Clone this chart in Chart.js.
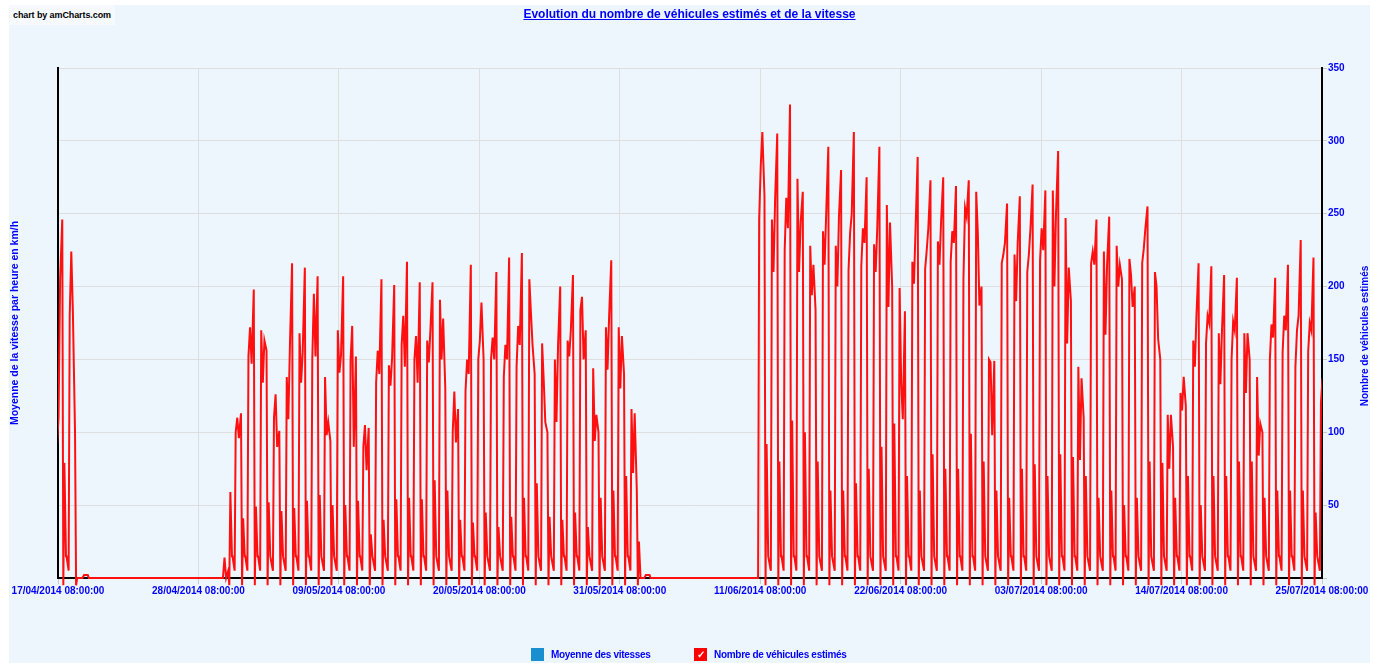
<!DOCTYPE html>
<html>
<head>
<meta charset="utf-8">
<script src="https://cdn.jsdelivr.net/npm/chart.js@4.4.1/dist/chart.umd.min.js"></script>
<style>
  body { margin: 0; background: #fff; font-family: "Liberation Sans", Arial, sans-serif; }
  #wrap { position: absolute; left: 9px; top: 5px; width: 1361px; height: 658px; background: #eef6fd; }
  #chart { position: absolute; left: 0; top: 0; }
  #credit { position: absolute; left: 0; top: 0; padding: 5px 4px 5px 4px; font: bold 9px "Liberation Sans", Arial, sans-serif; letter-spacing: -0.1px; color: #000; background: #f6faff; }
  #title { position: absolute; left: 0; top: 2px; width: 1361px; text-align: center; font: bold 12px "Liberation Sans", Arial, sans-serif; color: #0000ff; text-decoration: underline; }
  .leg { position: absolute; top: 643px; height: 13px; font: bold 10px "Liberation Sans", Arial, sans-serif; letter-spacing: -0.3px; color: #0000ff; line-height: 13px; }
  .box { position: absolute; top: 0; width: 13px; height: 13px; }
  .box.red { background: #ff0000; color: #fff; font-size: 10px; text-align: center; line-height: 13px; }
  .box.blue { background: #1a8fcf; }
</style>
</head>
<body>
<div id="wrap">
  <canvas id="chart" width="1361" height="658"></canvas>
  <div id="credit">chart by amCharts.com</div>
  <div id="title">Evolution du nombre de véhicules estimés et de la vitesse</div>
  <div class="leg" style="left:522px"><span class="box blue" style="left:0"></span><span style="position:absolute;left:20px;white-space:nowrap">Moyenne des vitesses</span></div>
  <div class="leg" style="left:685px"><span class="box red" style="left:0">&#10003;</span><span style="position:absolute;left:20px;white-space:nowrap">Nombre de véhicules estimés</span></div>
</div>
<script>
// one row per day from 17/04/2014, readings at 06h, 09h, 12h, 16h and 20h
const rise      = [ 90,180,0,0,0,0,0,0,0,0,0,0,0, 0,100,152,170,110,138,168,150,138,170,150, 90,134,146,160,150,163,191,100,128,150,150,138,145,205,161,150,163,184,144,172,172,116,0,0,0,0,0,0,0,0,0,246,246,225,274,228,238,228,211,214,229,256,199,217,212,231,217,205,265,150,216,222,210,218,266,247,145,216,224,228,219,216,210,112,127,163,161,168,150,168,138,150,155,145,155,120];
const morning   = [110,224,2,0,0,0,0,0,0,0,0,0,0,14,110,172,134,126,109,134,195, 98,141,173,105,156,132,180,166,148,150,128,150,163,165,160,173,182,136,107,152,193, 94,143,130, 72,2,0,0,0,0,0,0,0,0,283,210,261,210,194,215,200,237,240,210,186,134,202,225,215,238,254,237,148,222,190,222,240,200,161, 81,224,167,200,208,226,200, 75,115,145,180,133,176,127, 84,174,180,170,175,137];
const midday    = [205,182,2,0,0,0,0,0,0,0,0,0,0, 0, 96,147,163, 90,160,155,152,107,153, 90, 74,140,151,145,134,170,178, 93,140,189,150,150,160,160,107,160,170,150,112,180,166,113,2,0,0,0,0,0,0,0,0,306,260,240,244,215,250,248,250,230,240,244,109,240,240,245,230,248,187, 98,230,230,240,225,250,213,137,215,215,215,186,240,164,112,138,180,175,170,170,168,106,165,170,180,170,137];
const afternoon = [246,100,2,0,0,0,0,0,0,0,0,0,0, 5,113,198,156,101,216,213,207, 94,207,152,103,205,201,217,203,203,130,116,215,150,210,220,223,140,100,200,208,170,100,218,140, 60,2,0,0,0,0,0,0,0,0,262,305,325,265,184,296,280,306,275,296,200,183,289,273,275,269,273,200,149,257,262,270,266,293,190,110,246,248,205,200,255,150, 90,118,216,214,208,206,150,100,206,215,232,220,137];
const evening   = [ 79,  0,0,0,0,0,0,0,0,0,0,0,0,59, 41, 49, 52, 46, 48, 53, 57, 50, 50, 53, 30, 40, 54, 55, 54, 67, 60, 40, 38, 45, 35, 42, 55, 65, 42, 40, 45, 35, 55, 60, 70, 25,0,0,0,0,0,0,0,0,0, 92, 80,108,100, 80, 60, 60, 65, 75, 90,106, 70, 60, 85, 75, 75, 99, 80, 60, 55, 75, 78, 70, 85, 83, 70, 55, 60, 50, 55, 80, 79, 55, 70, 50, 70, 70, 80, 80, 55, 60, 60, 60, 45,  0];

const tickLabels = ['17/04/2014 08:00:00', '28/04/2014 08:00:00', '09/05/2014 08:00:00', '20/05/2014 08:00:00',
  '31/05/2014 08:00:00', '11/06/2014 08:00:00', '22/06/2014 08:00:00', '03/07/2014 08:00:00',
  '14/07/2014 08:00:00', '25/07/2014 08:00:00'];
const yTicks = [0, 50, 100, 150, 200, 250, 300, 350];

const startHour = 8;      // first sample is 17/04 08:00
const hoursShown = 2376;  // up to 25/07 08:00
const lateLow = 15, nightLow = 5, dipLow = -5;

const blue = '#0000ff';
const font = 'Liberation Sans, Arial, sans-serif';

function active(d) {
  if (d < 0 || d >= rise.length) return false;
  return Math.max(rise[d], morning[d], midday[d], afternoon[d], evening[d]) > 20;
}

const vehicles = [];
for (let d = 0; d < rise.length; d++) {
  const a = active(d);
  const row = [
    [0, a && active(d - 1) ? lateLow : 0],
    [4, a && active(d - 1) ? nightLow : 0],
    [6, rise[d]], [9, morning[d]], [12, midday[d]], [16, afternoon[d]],
    [18, a ? dipLow : 0],
    [20, evening[d]],
    [23, a && active(d + 1) ? lateLow : 0]
  ];
  row.forEach(([h, v]) => vehicles.push({ x: d * 24 + h - startHour, y: v }));
}

const rightTitle = {
  id: 'rightTitle',
  afterDraw(chart) {
    const ctx = chart.ctx;
    const s = chart.scales.y;
    ctx.save();
    ctx.translate(s.right - 5, 331);
    ctx.rotate(-Math.PI / 2);
    ctx.font = 'bold 10px ' + font;
    ctx.fillStyle = blue;
    ctx.textAlign = 'center';
    ctx.textBaseline = 'middle';
    ctx.fillText('Nombre de véhicules estimés', 0, 0);
    ctx.restore();
  }
};

new Chart(document.getElementById('chart'), {
  type: 'line',
  data: {
    datasets: [{
      label: 'Nombre de véhicules estimés',
      data: vehicles,
      yAxisID: 'y',
      borderColor: '#ff1010',
      borderWidth: 2,
      pointRadius: 0,
      tension: 0,
      fill: false,
      clip: { left: 0, top: 0, right: 0, bottom: 9 }
    }, {
      label: 'Moyenne des vitesses',
      data: [],
      yAxisID: 'y2',
      borderColor: '#1a8fcf'
    }]
  },
  options: {
    responsive: false,
    animation: false,
    layout: { padding: { top: 63, left: 0, right: 0, bottom: 0 } },
    plugins: { legend: { display: false }, tooltip: { enabled: false } },
    scales: {
      x: {
        type: 'linear',
        min: 0,
        max: hoursShown,
        afterBuildTicks: (scale) => { scale.ticks = tickLabels.map((_, i) => ({ value: i * 264 })); },
        afterFit: (scale) => { scale.height = 85; },
        ticks: {
          autoSkip: false,
          maxRotation: 0,
          padding: 1,
          color: blue,
          font: { family: font, size: 10, weight: 'bold' },
          callback: (v, i) => tickLabels[i]
        },
        grid: { color: '#dedede', tickLength: 6, tickColor: '#c8c8c8' },
        border: { display: true, color: '#000', width: 2 }
      },
      y: {
        position: 'right',
        min: 0,
        max: 350,
        afterBuildTicks: (scale) => { scale.ticks = yTicks.map(v => ({ value: v })); },
        afterFit: (scale) => { scale.width = 48; },
        ticks: {
          padding: 1,
          color: blue,
          font: { family: font, size: 10, weight: 'bold' },
          callback: (v) => v === 0 ? '' : v
        },
        grid: { color: '#dedede', tickLength: 5, tickColor: '#c8c8c8' },
        border: { display: true, color: '#000', width: 2 }
      },
      y2: {
        display: true,
        position: 'left',
        min: 0,
        max: 100,
        afterFit: (scale) => { scale.width = 49; },
        ticks: { display: false },
        grid: { display: false },
        border: { display: true, color: '#000', width: 2 },
        title: {
          display: true,
          text: 'Moyenne de la vitesse par heure en km/h',
          color: blue,
          padding: 0,
          font: { family: font, size: 10.5, weight: 'bold' }
        }
      }
    }
  },
  plugins: [rightTitle]
});
</script>
</body>
</html>
